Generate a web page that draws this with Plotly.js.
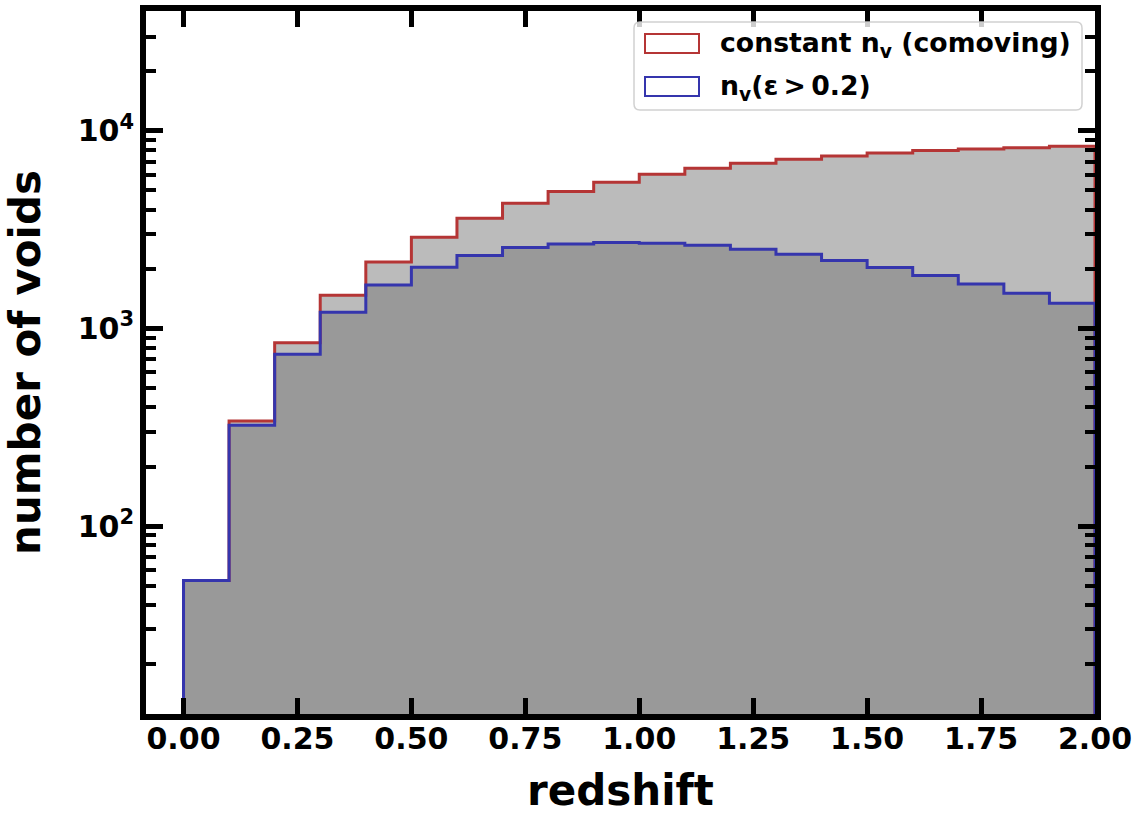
<!DOCTYPE html>
<html>
<head>
<meta charset="utf-8">
<script src="https://cdn.plot.ly/plotly-3.0.1.min.js"></script>
<style>html,body{margin:0;padding:0;background:#fff;}</style>
</head>
<body>
<div id="chart" style="width:1143px;height:815px;"></div>
<script>
// ---- data ----
const binEdges = [0.0,0.1,0.2,0.3,0.4,0.5,0.6,0.7,0.8,0.9,1.0,1.1,1.2,1.3,1.4,1.5,1.6,1.7,1.8,1.9,2.0];
const countsComoving = [53,340,846,1473,2173,2897,3613,4302,4932,5496,6034,6469,6857,7184,7465,7730,7950,8100,8230,8360];
const countsEllip    = [53,324,741,1209,1662,2042,2340,2569,2679,2723,2702,2638,2518,2376,2208,2035,1854,1681,1509,1343];
const seriesNames = ['constant n<sub>v</sub> (comoving)', 'n<sub>v</sub>(ε\u2009&gt;\u20090.2)'];
const yTickVals = [100, 1000, 10000];
const yTickText = ['10<sup>2</sup>', '10<sup>3</sup>', '10<sup>4</sup>'];
const BASE = 1; // histogram baseline (below visible range)

const RED = '#b53535', BLUE = '#3535ad';
const FONT = 'DejaVu Sans';

const centers = binEdges.slice(0, -1).map((e, i) => (e + binEdges[i + 1]) / 2);
const widths = binEdges.slice(0, -1).map((e, i) => binEdges[i + 1] - e);

function stepLine(counts) {
  const xs = [binEdges[0]].concat(binEdges.slice(0, -1)).concat([binEdges[binEdges.length - 1], binEdges[binEdges.length - 1]]);
  const ys = [BASE].concat(counts).concat([counts[counts.length - 1], BASE]);
  return {xs, ys};
}
const s1 = stepLine(countsComoving), s2 = stepLine(countsEllip);

const traces = [
  {type:'bar', x:centers, y:countsComoving, width:widths, marker:{color:'#bbbbbb', line:{width:0}}, showlegend:false, hoverinfo:'skip'},
  {type:'bar', x:centers, y:countsEllip, width:widths, marker:{color:'#999999', line:{width:0}}, showlegend:false, hoverinfo:'skip'},
  {type:'scatter', mode:'lines', x:s1.xs, y:s1.ys, line:{shape:'hv', color:RED, width:3}, name:seriesNames[0], showlegend:false},
  {type:'scatter', mode:'lines', x:s2.xs, y:s2.ys, line:{shape:'hv', color:BLUE, width:3}, name:seriesNames[1], showlegend:false}
];

// minor tick positions on the log axis
const minorVals = [];
for (let d = 1; d <= 4; d++) for (let k = 2; k <= 9; k++) minorVals.push(k * Math.pow(10, d));

// legend geometry (pixels -> paper)
const L = 146, R = 1095, T = 11, B = 714;
const px = v => (v - L) / (R - L);
const py = v => (B - v) / (B - T);
function roundRect(x0, y0, x1, y1, r) {
  const rx = r / (R - L), ry = r / (B - T);
  const X0 = px(x0), X1 = px(x1), Y0 = py(y1), Y1 = py(y0);
  return `M${X0+rx},${Y0} L${X1-rx},${Y0} Q${X1},${Y0} ${X1},${Y0+ry} L${X1},${Y1-ry} Q${X1},${Y1} ${X1-rx},${Y1} L${X0+rx},${Y1} Q${X0},${Y1} ${X0},${Y1-ry} L${X0},${Y0+ry} Q${X0},${Y0} ${X0+rx},${Y0} Z`;
}

const layout = {
  width:1143, height:815,
  margin:{l:L, r:1143 - R, t:T, b:815 - B, pad:0},
  paper_bgcolor:'#ffffff', plot_bgcolor:'#ffffff',
  barmode:'overlay', bargap:0,
  showlegend:false,
  font:{family:FONT, color:'#000000'},
  xaxis:{
    range:[-0.0823, 2.0], tick0:0, dtick:0.25, tickformat:'.2f',
    ticks:'inside', ticklen:16, tickwidth:5, tickcolor:'#000',
    showline:true, linewidth:6, linecolor:'#000', mirror:'allticks',
    showgrid:false, zeroline:false, automargin:'left+right',
    ticklabelstandoff:-7,
    tickfont:{family:FONT, size:30, weight:'bold', color:'#000'},
    title:{text:'redshift', font:{family:FONT, size:42, weight:'bold', color:'#000'}, standoff:29}
  },
  yaxis:{
    type:'log', range:[1.049, 4.607],
    tickmode:'array', tickvals:yTickVals, ticktext:yTickText,
    ticks:'inside', ticklen:17, tickwidth:5, tickcolor:'#000',
    minor:{tickmode:'array', tickvals:minorVals, ticks:'inside', ticklen:10, tickwidth:4, tickcolor:'#000', showgrid:false},
    showline:true, linewidth:6, linecolor:'#000', mirror:'allticks',
    showgrid:false, zeroline:false, automargin:'top+bottom',
    tickfont:{family:FONT, size:30, weight:'bold', color:'#000'},
    title:{text:'number of voids', font:{family:FONT, size:42, weight:'bold', color:'#000'}, standoff:26}
  },
  shapes:[
    {type:'path', xref:'paper', yref:'paper', path:roundRect(634, 22, 1082, 110, 6), fillcolor:'rgba(255,255,255,0.8)', line:{color:'rgba(204,204,204,0.9)', width:1.5}, layer:'above'},
    {type:'rect', xref:'paper', yref:'paper', x0:px(645), x1:px(699), y0:py(53), y1:py(34), line:{color:RED, width:2}, fillcolor:'rgba(0,0,0,0)', layer:'above'},
    {type:'rect', xref:'paper', yref:'paper', x0:px(645), x1:px(699), y0:py(96), y1:py(77), line:{color:BLUE, width:2}, fillcolor:'rgba(0,0,0,0)', layer:'above'}
  ],
  annotations:[
    {xref:'paper', yref:'paper', x:px(718), y:py(45), xanchor:'left', yanchor:'middle', showarrow:false, text:seriesNames[0], font:{family:FONT, size:26.7, weight:'bold', color:'#000'}},
    {xref:'paper', yref:'paper', x:px(718), y:py(88), xanchor:'left', yanchor:'middle', showarrow:false, text:seriesNames[1], font:{family:FONT, size:26.7, weight:'bold', color:'#000'}}
  ]
};

Plotly.newPlot('chart', traces, layout, {staticPlot:true, displayModeBar:false});
</script>
</body>
</html>
